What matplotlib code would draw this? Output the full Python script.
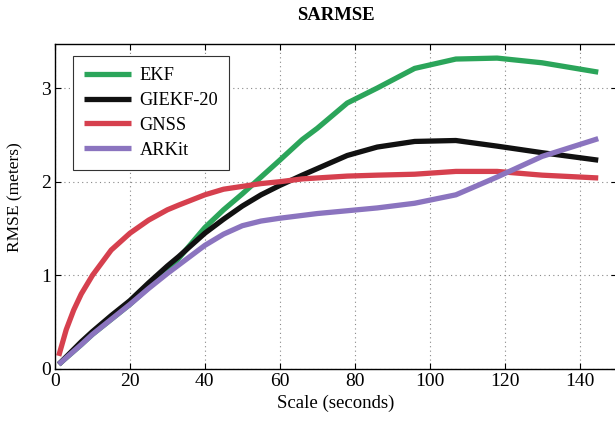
import numpy as np
import matplotlib.pyplot as plt

plt.rcParams['font.family'] = ['Liberation Serif', 'DejaVu Serif']

# sample times (seconds)
scale = [1, 3, 5, 7, 10, 15, 20, 25, 30, 33, 40, 45, 50, 55, 60, 66, 70, 78, 86, 96, 107, 118, 130, 145]

ekf = [0.05, 0.12, 0.19, 0.26, 0.37, 0.53, 0.69, 0.87, 1.05, 1.18, 1.51, 1.70, 1.87, 2.05, 2.23, 2.45, 2.57, 2.84, 3.00, 3.21, 3.31, 3.32, 3.27, 3.17]
giekf = [0.05, 0.13, 0.21, 0.29, 0.40, 0.57, 0.73, 0.92, 1.10, 1.20, 1.45, 1.60, 1.74, 1.86, 1.96, 2.07, 2.14, 2.28, 2.37, 2.43, 2.44, 2.38, 2.31, 2.23]
gnss = [0.14, 0.42, 0.63, 0.80, 1.00, 1.27, 1.45, 1.59, 1.70, 1.75, 1.86, 1.92, 1.95, 1.98, 2.00, 2.03, 2.04, 2.06, 2.07, 2.08, 2.11, 2.11, 2.07, 2.04]
arkit = [0.05, 0.12, 0.19, 0.26, 0.37, 0.53, 0.69, 0.86, 1.02, 1.11, 1.32, 1.44, 1.53, 1.58, 1.61, 1.64, 1.66, 1.69, 1.72, 1.77, 1.86, 2.05, 2.27, 2.46]

labels = ['EKF', 'GIEKF-20', 'GNSS', 'ARKit']
colors = ['#2ba55a', '#111111', '#d6404e', '#8b74bf']

fig = plt.figure(figsize=(6.15, 4.22), dpi=100)
ax = fig.add_axes([0.0894, 0.1256, 0.9138, 0.7700])

for y, lab, c in zip([ekf, giekf, gnss, arkit], labels, colors):
    ax.plot(scale, y, color=c, lw=3.8, label=lab, solid_capstyle='butt')

ax.set_xlim(0, 150)
ax.set_ylim(0, 3.47)
ax.set_xticks(np.arange(0, 141, 20))
ax.set_yticks([0, 1, 2, 3])
ax.grid(True, linestyle=(0, (1, 3)), color='#888888', lw=0.8)
ax.tick_params(direction='in', top=True, right=True, labelsize=14, length=4, pad=3)
for s in ax.spines.values():
    s.set_linewidth(1.0)

ax.set_xlabel('Scale (seconds)', fontsize=13.5, labelpad=3)
ax.set_ylabel('RMSE (meters)', fontsize=12.5)
ax.yaxis.set_label_coords(-0.057, 0.53)
ax.set_title('SARMSE', fontsize=13.5, fontweight='bold', pad=17)

leg = ax.legend(loc='upper left', bbox_to_anchor=(0.015, 0.99), fontsize=13.2, handlelength=2.6,
                handletextpad=0.45, labelspacing=0.42, borderpad=0.6, fancybox=False,
                framealpha=1, edgecolor='#333333')
leg.get_frame().set_linewidth(0.8)

fig.savefig('out.png', dpi=100)
